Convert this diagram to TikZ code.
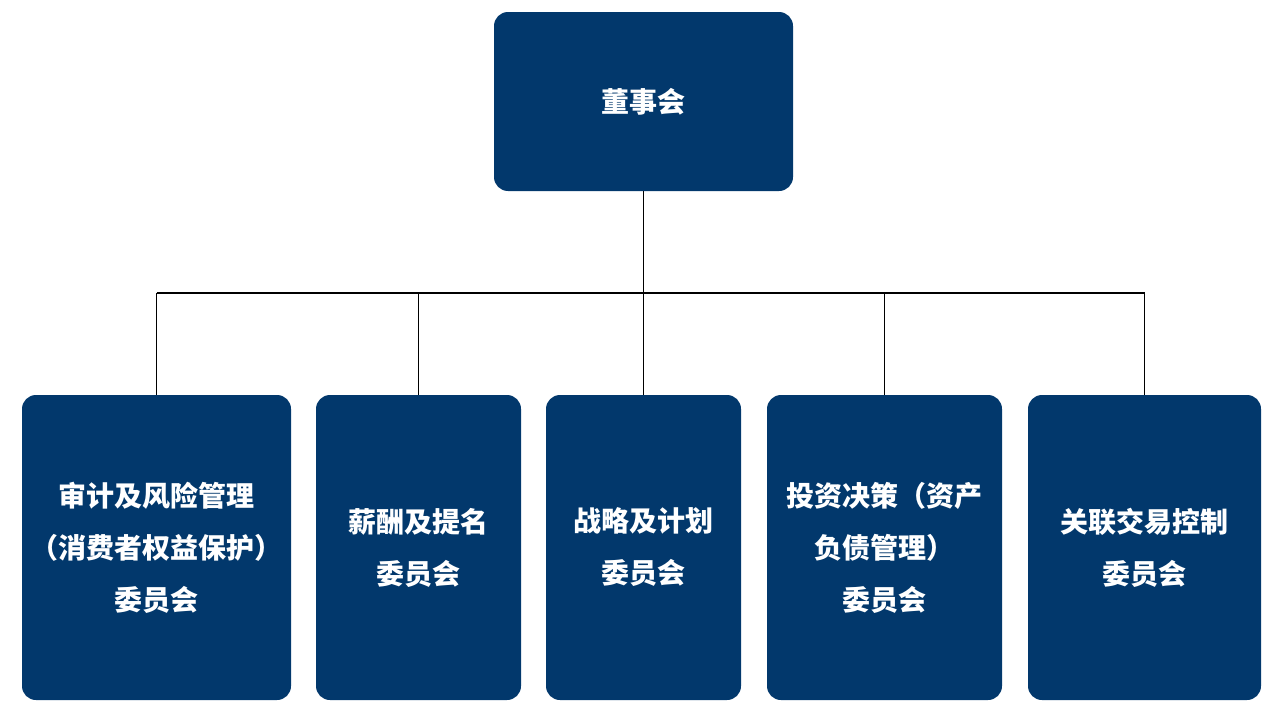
\documentclass[tikz,border=0pt]{standalone}
\usepackage{fontspec}
\newfontfamily\cjk{Noto Sans CJK SC}
\definecolor{navy}{HTML}{02386C}
\begin{document}
\begin{tikzpicture}[x=1pt,y=1pt,
  box/.style={fill=navy,draw=none,rounded corners=14pt,text=white,align=center,
    font=\cjk\bfseries\fontsize{28}{52}\selectfont,inner sep=0pt},
  ln/.style={draw=black,line width=1.2pt}]
\useasboundingbox (0,0) rectangle (1280,-720);
\node[box,minimum width=299pt,minimum height=179pt] (top) at (643.5,-101.5) {董事会};
\node[box,minimum width=269pt,minimum height=305pt] (b1) at (156.5,-547.5) {审计及风险管理\\（消费者权益保护）\\委员会};
\node[box,minimum width=205pt,minimum height=305pt] (b2) at (418.5,-547.5) {薪酬及提名\\委员会};
\node[box,minimum width=195pt,minimum height=305pt] (b3) at (643.5,-547.5) {战略及计划\\委员会};
\node[box,minimum width=235pt,minimum height=305pt] (b4) at (884.5,-547.5) {投资决策（资产\\负债管理）\\委员会};
\node[box,minimum width=233pt,minimum height=305pt] (b5) at (1144.5,-547.5) {关联交易控制\\委员会};
\coordinate (h) at (643.5,-293);
\draw[ln] (top.south) -- (h);
\draw[ln] (b1.north |- h) -- (b5.north |- h);
\foreach \b in {b1,b2,b3,b4,b5} \draw[ln] (\b.north |- h) -- (\b.north);
\end{tikzpicture}
\end{document}
